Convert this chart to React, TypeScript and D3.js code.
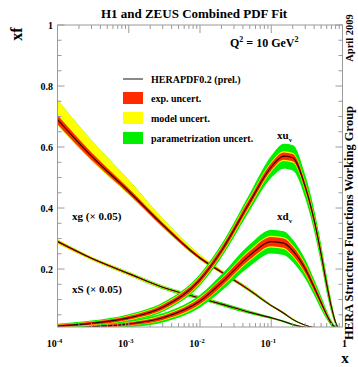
import React from "react";
import * as d3 from "d3";

// x grid the curves are read at
const xGrid = [1e-4, 3e-4, 1e-3, 3e-3, 1e-2, 2e-2, 5e-2, 0.1, 0.15, 0.2, 0.3, 0.4, 0.5, 0.6, 0.7, 0.8, 0.9, 1];

// xu_v
const xuvCentral = [0.013, 0.022, 0.04, 0.075, 0.165, 0.26, 0.42, 0.535, 0.57, 0.565, 0.47, 0.36, 0.25, 0.15, 0.075, 0.025, 0.004, 0];
const xuvExp = [0.004, 0.005, 0.006, 0.008, 0.01, 0.011, 0.012, 0.012, 0.012, 0.012, 0.012, 0.013, 0.013, 0.012, 0.008, 0.004, 0.001, 0];
const xuvModel = [0.001, 0.001, 0.002, 0.002, 0.003, 0.003, 0.004, 0.004, 0.004, 0.004, 0.004, 0.004, 0.004, 0.004, 0.003, 0.001, 0, 0];
const xuvPar = [0.003, 0.003, 0.004, 0.005, 0.006, 0.008, 0.012, 0.02, 0.025, 0.026, 0.022, 0.018, 0.015, 0.012, 0.008, 0.004, 0.001, 0];

// xd_v
const xdvCentral = [0.006, 0.011, 0.02, 0.04, 0.095, 0.155, 0.245, 0.29, 0.285, 0.26, 0.2, 0.14, 0.09, 0.05, 0.022, 0.007, 0.001, 0];
const xdvExp = [0.003, 0.004, 0.005, 0.007, 0.01, 0.012, 0.014, 0.015, 0.015, 0.015, 0.013, 0.011, 0.009, 0.006, 0.004, 0.002, 0.0005, 0];
const xdvModel = [0.001, 0.001, 0.001, 0.002, 0.003, 0.003, 0.004, 0.004, 0.004, 0.004, 0.004, 0.003, 0.003, 0.002, 0.001, 0.001, 0, 0];
const xdvPar = [0.003, 0.004, 0.005, 0.006, 0.008, 0.012, 0.018, 0.02, 0.02, 0.018, 0.015, 0.012, 0.01, 0.007, 0.004, 0.002, 0.0005, 0];

// xg (x 0.05)
const xgCentral = [0.69, 0.57, 0.455, 0.345, 0.236, 0.19, 0.13, 0.08, 0.055, 0.035, 0.016, 0.008, 0.004, 0.002, 0.001, 0, 0, 0];
const xgExp = [0.015, 0.012, 0.009, 0.007, 0.005, 0.004, 0.003, 0.002, 0.002, 0.0015, 0.001, 0.001, 0.0005, 0, 0, 0, 0, 0];
const xgModelUp = [0.05, 0.04, 0.028, 0.014, 0.006, 0.003, 0.002, 0.001, 0.001, 0.001, 0, 0, 0, 0, 0, 0, 0, 0];
const xgModelDn = [0.003, 0.003, 0.002, 0.002, 0.001, 0.001, 0.001, 0, 0, 0, 0, 0, 0, 0, 0, 0, 0, 0];
const xgPar = [0, 0, 0, 0, 0, 0, 0.001, 0.001, 0.001, 0.001, 0, 0, 0, 0, 0, 0, 0, 0];

// xS (x 0.05)
const xsCentral = [0.29, 0.235, 0.185, 0.14, 0.105, 0.085, 0.058, 0.04, 0.028, 0.018, 0.009, 0.005, 0.003, 0.0015, 0.0007, 0.0002, 0, 0];
const xsExp = [0.004, 0.003, 0.003, 0.002, 0.002, 0.002, 0.0015, 0.001, 0.001, 0.001, 0.001, 0, 0, 0, 0, 0, 0, 0];
const xsModel = [0.003, 0.002, 0.002, 0.002, 0.001, 0.001, 0.001, 0.001, 0, 0, 0, 0, 0, 0, 0, 0, 0, 0];
const xsPar = [0, 0, 0.001, 0.002, 0.003, 0.003, 0.003, 0.002, 0.002, 0.002, 0.001, 0.001, 0, 0, 0, 0, 0, 0];

const yMajor = [0.2, 0.4, 0.6, 0.8, 1];
const yLabels = ["0.2", "0.4", "0.6", "0.8", "1"];
const xDecades = [1e-4, 1e-3, 1e-2, 1e-1, 1];
const xExp = ["-4", "-3", "-2", "-1", ""];

const legendItems = [
  { label: "exp. uncert.", color: "#ff2a00" },
  { label: "model uncert.", color: "#ffff00" },
  { label: "parametrization uncert.", color: "#00ee00" },
];

const font = "'Liberation Serif', 'Times New Roman', serif";

const series = [
  { c: xgCentral, exp: xgExp, up: xgModelUp, dn: xgModelDn, par: xgPar },
  { c: xsCentral, exp: xsExp, up: xsModel, dn: xsModel, par: xsPar },
  { c: xdvCentral, exp: xdvExp, up: xdvModel, dn: xdvModel, par: xdvPar },
  { c: xuvCentral, exp: xuvExp, up: xuvModel, dn: xuvModel, par: xuvPar },
];

export default function App() {
  const left = 57.5, right = 342.5, top = 25, bottom = 327;
  const x = d3.scaleLog().domain([1e-4, 1]).range([left, right]);
  const y = d3.scaleLinear().domain([0.01, 1]).range([bottom, top]);

  const area = (lo: (i: number) => number, hi: (i: number) => number) =>
    d3.area<number>()
      .x((i) => x(xGrid[i]))
      .y0((i) => y(lo(i)))
      .y1((i) => y(hi(i)))
      .curve(d3.curveMonotoneX)(d3.range(xGrid.length)) || "";
  const line = (c: number[]) =>
    d3.line<number>().x((i) => x(xGrid[i])).y((i) => y(c[i])).curve(d3.curveMonotoneX)(d3.range(xGrid.length)) || "";

  const yMinor = d3.range(0.05, 1.0001, 0.05);
  const xMinor: number[] = [];
  for (let e = -4; e < 0; e++) for (let k = 2; k <= 9; k++) xMinor.push(k * Math.pow(10, e));

  const frame = "#9a9a9a";

  return (
    <svg width={358} height={367} style={{ position: "absolute", left: 0, top: 0, background: "#fff" }} fontFamily={font} fontWeight="bold">
      <defs>
        <clipPath id="plot">
          <rect x={left} y={top} width={right - left} height={bottom - top} />
        </clipPath>
      </defs>
      <text x={194} y={18} fontSize={13} textAnchor="middle">H1 and ZEUS Combined PDF Fit</text>
      <text transform="translate(22,34) rotate(-90)" fontSize={16} textAnchor="middle">xf</text>

      <g clipPath="url(#plot)">
        {series.map((s, k) => (
          <g key={k}>
            <path d={area((i) => s.c[i] - s.exp[i] - s.dn[i] - s.par[i], (i) => s.c[i] + s.exp[i] + s.up[i] + s.par[i])} fill="#00ee00" />
            <path d={area((i) => s.c[i] - s.exp[i] - s.dn[i], (i) => s.c[i] + s.exp[i] + s.up[i])} fill="#ffff00" />
            <path d={area((i) => s.c[i] - s.exp[i], (i) => s.c[i] + s.exp[i])} fill="#ff2a00" />
            <path d={line(s.c)} fill="none" stroke="#2a0800" strokeWidth={1.1} />
          </g>
        ))}
      </g>

      {/* frame and ticks */}
      <rect x={left} y={top} width={right - left} height={bottom - top} fill="none" stroke={frame} strokeWidth={1} />
      {yMinor.map((v, i) => {
        const major = Math.abs(v * 5 - Math.round(v * 5)) < 1e-6;
        const l = major ? 7 : 4;
        return (
          <g key={"ym" + i} stroke={frame}>
            <line x1={left} x2={left + l} y1={y(v)} y2={y(v)} />
            <line x1={right} x2={right - l} y1={y(v)} y2={y(v)} />
          </g>
        );
      })}
      {xMinor.map((v, i) => (
        <g key={"xm" + i} stroke={frame}>
          <line x1={x(v)} x2={x(v)} y1={bottom} y2={bottom - 4} />
          <line x1={x(v)} x2={x(v)} y1={top} y2={top + 4} />
        </g>
      ))}
      {xDecades.map((v, i) => (
        <g key={"xd" + i} stroke={frame}>
          <line x1={x(v)} x2={x(v)} y1={bottom} y2={bottom - 8} />
          <line x1={x(v)} x2={x(v)} y1={top} y2={top + 8} />
        </g>
      ))}
      {yMajor.map((v, i) => (
        <text key={"yl" + i} x={53} y={y(v) + 3.5} fontSize={10} textAnchor="end">{yLabels[i]}</text>
      ))}
      {xDecades.map((v, i) => (
        <text key={"xl" + i} x={x(v) + (xExp[i] ? -3 : 2)} y={347} fontSize={10} textAnchor="middle">
          {xExp[i] ? "10" : "1"}
          {xExp[i] && <tspan dy={-4} fontSize={6.5}>{xExp[i]}</tspan>}
        </text>
      ))}
      <text x={345} y={363} fontSize={15} textAnchor="middle">x</text>

      <text x={230} y={47} fontSize={12}>
        Q<tspan dy={-5} fontSize={8}>2</tspan><tspan dy={5}> = 10 GeV</tspan><tspan dy={-5} fontSize={8}>2</tspan>
      </text>

      {/* legend */}
      <line x1={123} x2={143} y1={79} y2={79} stroke="#8a8a8a" strokeWidth={2} />
      <text x={151} y={82.5} fontSize={10}>HERAPDF0.2 (prel.)</text>
      {legendItems.map((d, i) => (
        <g key={d.label} transform={`translate(123,${92 + i * 20})`}>
          <rect width={20} height={12} fill={d.color} />
          <text x={28} y={9.5} fontSize={10}>{d.label}</text>
        </g>
      ))}

      {/* curve labels */}
      <text x={277} y={139} fontSize={11}>xu<tspan dy={3} fontSize={7}>v</tspan></text>
      <text x={277} y={220} fontSize={11}>xd<tspan dy={3} fontSize={7}>v</tspan></text>
      <text x={72} y={220} fontSize={11}>xg (× 0.05)</text>
      <text x={72} y={293} fontSize={11}>xS (× 0.05)</text>

      <text transform="translate(353,38) rotate(-90)" fontSize={10.5} textAnchor="middle">April 2009</text>
      <text transform="translate(353,340) rotate(-90)" fontSize={12.5}>HERA Structure Functions Working Group</text>
    </svg>
  );
}
